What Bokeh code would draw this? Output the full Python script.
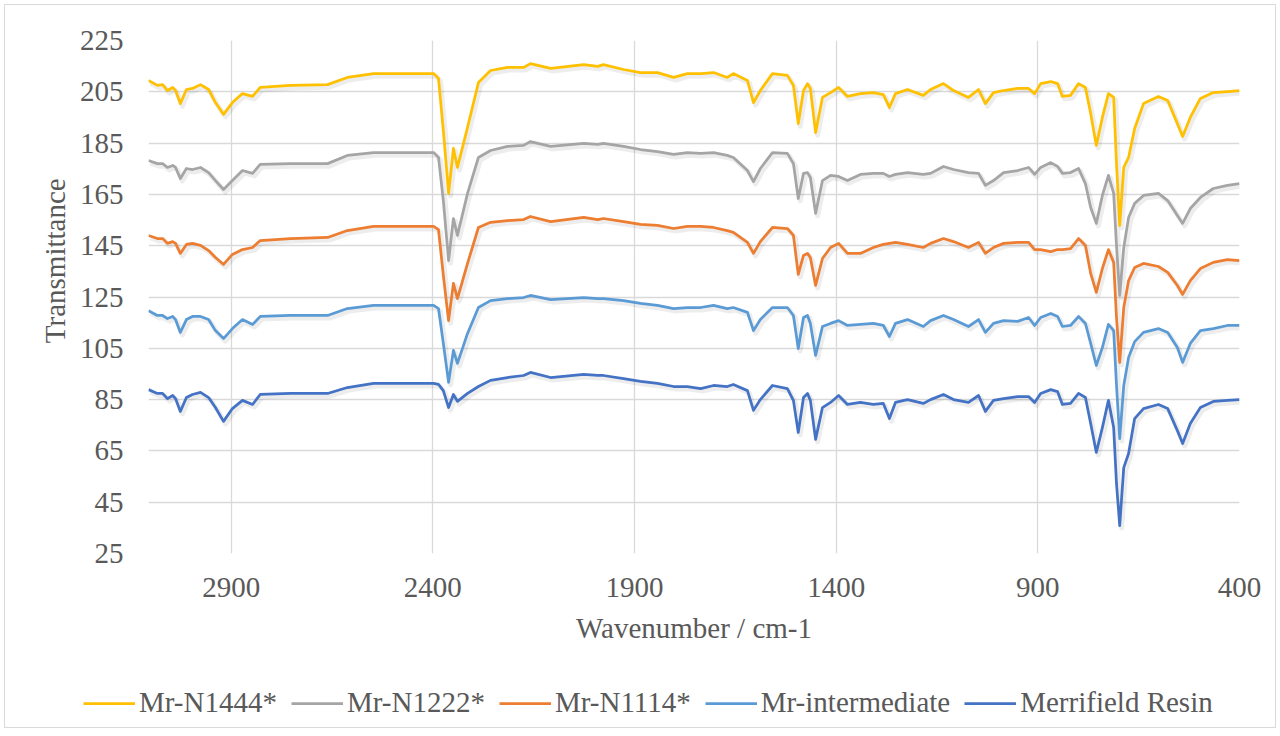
from bokeh.plotting import figure
from bokeh.layouts import column, row
from bokeh.models import ColumnDataSource, FixedTicker, Legend, LegendItem, Range1d
from bokeh.transform import dodge
from bokeh.embed import file_html
from bokeh.resources import INLINE

# ---- data ----
wavenumber = [
    3105, 3083, 3070, 3058, 3045, 3038, 3026, 3011, 2996, 2976,
    2956, 2939, 2919, 2897, 2872, 2847, 2828, 2753, 2661, 2612,
    2547, 2398, 2386, 2374, 2361, 2349, 2339, 2314, 2287, 2257,
    2215, 2175, 2158, 2108, 2026, 1991, 1977, 1927, 1885, 1843,
    1803, 1769, 1736, 1704, 1670, 1655, 1620, 1605, 1588, 1558,
    1521, 1506, 1494, 1481, 1471, 1464, 1451, 1434, 1414, 1394,
    1372, 1340, 1308, 1283, 1268, 1253, 1223, 1184, 1166, 1134,
    1109, 1072, 1047, 1030, 1010, 985, 950, 923, 908, 893,
    868, 851, 839, 819, 799, 782, 769, 755, 740, 725,
    712, 705, 697, 687, 675, 660, 638, 601, 578, 554,
    541, 522, 497, 465, 430, 400,
]

mr_n1444 = [
    209.4, 207.5, 207.8, 205.5, 206.7, 205.5, 200.4, 205.9, 206.3, 207.8,
    205.9, 200.8, 196.2, 200.8, 204.3, 203.2, 206.7, 207.5, 207.8, 210.6,
    212.1, 212.1, 210.2, 189.9, 165.4, 182.9, 175.5, 191.1, 208.6, 213.3,
    214.5, 214.5, 216.0, 214.1, 215.6, 214.9, 215.6, 213.7, 212.5, 212.5,
    210.6, 212.1, 212.1, 212.5, 210.6, 212.1, 209.4, 200.8, 205.5, 212.1,
    211.4, 207.5, 192.6, 205.5, 208.2, 206.3, 189.1, 202.8, 204.7, 206.7,
    203.2, 204.3, 204.7, 203.9, 198.9, 204.3, 205.9, 203.6, 205.9, 208.2,
    205.5, 202.8, 205.9, 200.4, 204.7, 205.5, 206.3, 206.3, 204.3, 208.2,
    209.0, 208.2, 203.2, 203.6, 208.2, 206.7, 196.5, 184.1, 195.0, 204.3,
    202.8, 177.0, 152.9, 175.5, 179.4, 190.7, 200.4, 203.2, 201.6, 192.6,
    187.6, 195.0, 202.4, 204.7, 205.1, 205.5,
]

mr_n1222 = [
    178.2, 177.0, 177.0, 175.5, 176.3, 175.5, 171.2, 175.1, 174.7, 175.5,
    173.5, 170.4, 166.9, 170.4, 174.3, 173.2, 176.7, 177.0, 177.0, 180.2,
    181.3, 181.3, 179.4, 162.6, 139.2, 155.6, 149.0, 165.4, 179.4, 182.1,
    183.7, 184.1, 185.6, 183.7, 184.9, 184.5, 184.9, 183.7, 182.5, 181.7,
    180.6, 181.3, 181.0, 181.3, 180.2, 179.4, 174.3, 170.0, 175.1, 181.3,
    181.0, 177.0, 163.4, 173.2, 173.5, 171.6, 157.6, 170.4, 172.4, 172.0,
    170.4, 172.8, 173.2, 173.2, 172.0, 172.8, 173.5, 172.8, 173.2, 175.9,
    174.7, 173.5, 173.2, 168.5, 170.4, 173.5, 174.3, 175.5, 172.8, 175.5,
    177.4, 175.9, 173.2, 173.5, 175.1, 169.2, 159.9, 153.7, 164.6, 172.4,
    165.4, 145.1, 125.6, 144.3, 156.0, 161.5, 164.6, 165.4, 162.6, 156.8,
    153.7, 159.5, 163.8, 167.3, 168.5, 169.2,
]

mr_n1114 = [
    149.0, 147.8, 147.8, 145.9, 146.6, 145.9, 142.0, 145.5, 145.9, 145.1,
    143.1, 140.4, 137.7, 141.6, 143.5, 144.3, 147.0, 147.8, 148.2, 150.9,
    152.5, 152.5, 151.3, 133.4, 115.8, 130.3, 124.4, 138.1, 152.1, 154.1,
    154.8, 155.2, 156.4, 154.4, 156.0, 155.2, 155.6, 154.4, 153.3, 152.9,
    151.7, 152.5, 152.5, 152.1, 150.9, 150.2, 146.3, 142.0, 146.6, 152.1,
    151.7, 149.0, 133.8, 141.2, 142.0, 140.4, 129.5, 140.0, 144.3, 145.9,
    142.0, 142.0, 144.3, 145.5, 145.9, 146.3, 145.5, 144.3, 145.9, 147.8,
    146.6, 144.3, 146.3, 142.0, 144.3, 145.9, 146.3, 146.3, 143.5, 143.5,
    142.7, 143.5, 143.5, 143.9, 147.8, 145.1, 134.2, 126.8, 136.1, 143.5,
    138.5, 117.0, 99.5, 120.9, 131.4, 136.5, 138.1, 136.9, 134.6, 129.5,
    126.0, 131.4, 136.1, 138.5, 139.6, 139.2,
]

mr_intermediate = [
    119.7, 117.8, 117.8, 116.6, 117.4, 116.2, 111.2, 116.2, 117.4, 117.4,
    116.2, 111.9, 108.8, 112.7, 116.2, 114.3, 117.4, 117.8, 117.8, 120.5,
    121.7, 121.7, 120.5, 106.9, 91.7, 104.2, 99.1, 110.8, 120.9, 123.6,
    124.4, 124.8, 125.6, 124.0, 124.8, 124.4, 124.4, 123.6, 122.5, 121.7,
    120.5, 120.9, 120.9, 121.7, 120.5, 120.9, 119.0, 111.9, 116.2, 120.9,
    120.9, 117.8, 104.9, 117.0, 117.8, 114.7, 102.2, 113.5, 114.7, 115.8,
    113.9, 114.3, 114.7, 113.9, 109.6, 114.7, 116.2, 113.5, 115.8, 117.8,
    116.2, 113.5, 116.2, 111.2, 114.7, 115.8, 115.5, 117.0, 113.9, 117.0,
    118.6, 117.4, 113.5, 113.9, 117.4, 114.7, 106.9, 98.3, 105.3, 114.3,
    111.9, 90.7, 69.8, 90.5, 101.4, 107.6, 111.2, 112.7, 111.2, 105.3,
    99.5, 106.9, 111.9, 112.7, 113.9, 113.9,
]

merrifield_resin = [
    88.9, 87.4, 87.4, 85.4, 86.6, 85.4, 80.4, 85.8, 87.0, 87.8,
    85.8, 81.9, 76.5, 81.5, 84.7, 83.1, 87.0, 87.4, 87.4, 89.7,
    91.3, 91.3, 90.9, 88.5, 81.9, 87.0, 84.3, 87.4, 90.1, 92.5,
    93.6, 94.4, 95.6, 93.6, 94.8, 94.4, 94.4, 93.2, 92.1, 91.3,
    90.1, 90.1, 89.3, 90.5, 90.1, 90.9, 88.5, 80.8, 85.0, 90.5,
    89.3, 84.7, 72.2, 85.8, 87.4, 84.7, 69.5, 81.9, 83.9, 86.6,
    83.1, 83.9, 83.1, 83.5, 77.6, 83.9, 85.0, 83.5, 85.0, 87.0,
    85.0, 83.9, 86.6, 80.4, 84.7, 85.4, 86.2, 86.2, 83.9, 87.4,
    88.9, 88.1, 83.1, 83.5, 87.4, 85.8, 75.7, 64.4, 74.1, 84.7,
    74.1, 52.3, 35.9, 58.5, 64.0, 77.6, 81.5, 83.1, 81.5, 72.9,
    67.9, 75.7, 81.9, 84.3, 84.7, 85.0,
]

series_names = ["Mr-N1444*", "Mr-N1222*", "Mr-N1114*", "Mr-intermediate", "Merrifield Resin"]
series_values = [mr_n1444, mr_n1222, mr_n1114, mr_intermediate, merrifield_resin]
series_colors = ["#FFC000", "#A5A5A5", "#ED7D31", "#5B9BD5", "#4472C4"]

x_ticks = [2900, 2400, 1900, 1400, 900, 400]
y_ticks = [25, 45, 65, 85, 105, 125, 145, 165, 185, 205, 225]

x_title = "Wavenumber / cm-1"
y_title = "Transmittance"

FONT = "Liberation Serif"
TXT = "#595959"
GRID = "#d9d9d9"

# ---------------- main plot ----------------
p = figure(
    width=1270, height=660,
    x_range=Range1d(3105, 400), y_range=Range1d(25, 225),
    output_backend="svg", toolbar_location=None,
    min_border_left=143, min_border_right=36, min_border_top=35, min_border_bottom=112,
    background_fill_color="white", border_fill_color="white",
    outline_line_color=None,
)

p.xaxis.ticker = FixedTicker(ticks=x_ticks)
p.yaxis.ticker = FixedTicker(ticks=y_ticks)
for ax in (p.xaxis, p.yaxis):
    ax.axis_line_color = None
    ax.major_tick_line_color = None
    ax.minor_tick_line_color = None
    ax.major_label_text_font = FONT
    ax.major_label_text_font_size = "29px"
    ax.major_label_text_color = TXT
    ax.axis_label_text_font = FONT
    ax.axis_label_text_font_size = "29px"
    ax.axis_label_text_font_style = "normal"
    ax.axis_label_text_color = TXT
p.xaxis.major_label_standoff = 18
p.yaxis.major_label_standoff = 19

p.xaxis.axis_label = x_title
p.xaxis.axis_label_standoff = 12
# leading no-break spaces lift the rotated title a little above the plot middle, as in the reference
p.yaxis.axis_label = "\u00a0" * 10 + y_title
p.yaxis.axis_label_standoff = 6

p.xgrid.ticker = FixedTicker(ticks=x_ticks)
p.ygrid.ticker = FixedTicker(ticks=y_ticks)
p.xgrid.grid_line_color = GRID
p.ygrid.grid_line_color = GRID
p.xgrid.grid_line_width = 1.3
p.ygrid.grid_line_width = 1.3

data = {"x": wavenumber}
for i, vals in enumerate(series_values):
    data[f"s{i}"] = vals
src = ColumnDataSource(data)

# soft drop shadows
for i in range(len(series_values)):
    p.line(x=dodge("x", -5, range=p.x_range), y=dodge(f"s{i}", -1.0, range=p.y_range),
           source=src, line_color="#000000", line_alpha=0.07, line_width=5,
           line_join="round")

for i, col in enumerate(series_colors):
    p.line(x="x", y=f"s{i}", source=src, line_color=col, line_width=2.75,
           line_join="round")

# ---------------- legend strip ----------------
leg = figure(
    width=1270, height=62, x_range=Range1d(0, 1), y_range=Range1d(0, 1),
    output_backend="svg", toolbar_location=None, min_border=0,
    x_axis_type=None, y_axis_type=None, outline_line_color=None,
    background_fill_color="white", border_fill_color="white",
)
nothing = ColumnDataSource({"x": [float("nan")], "y": [float("nan")]})
items = []
for name, col in zip(series_names, series_colors):
    r = leg.line(x="x", y="y", source=nothing, line_color=col, line_width=2.75)
    items.append(LegendItem(label=name, renderers=[r]))

legend = Legend(items=items, orientation="horizontal", location=(78, 8),
                glyph_width=52, glyph_height=20, label_standoff=4, spacing=14,
                padding=0, margin=0, border_line_color=None, background_fill_alpha=0,
                label_text_font=FONT, label_text_font_size="29px", label_text_color=TXT)
leg.add_layout(legend, "center")

layout = column(p, row(leg), spacing=0, margin=(4, 0, 0, 4),
                styles={"border": "1px solid #d9d9d9"})

open("out.html", "w").write(file_html(layout, INLINE))
